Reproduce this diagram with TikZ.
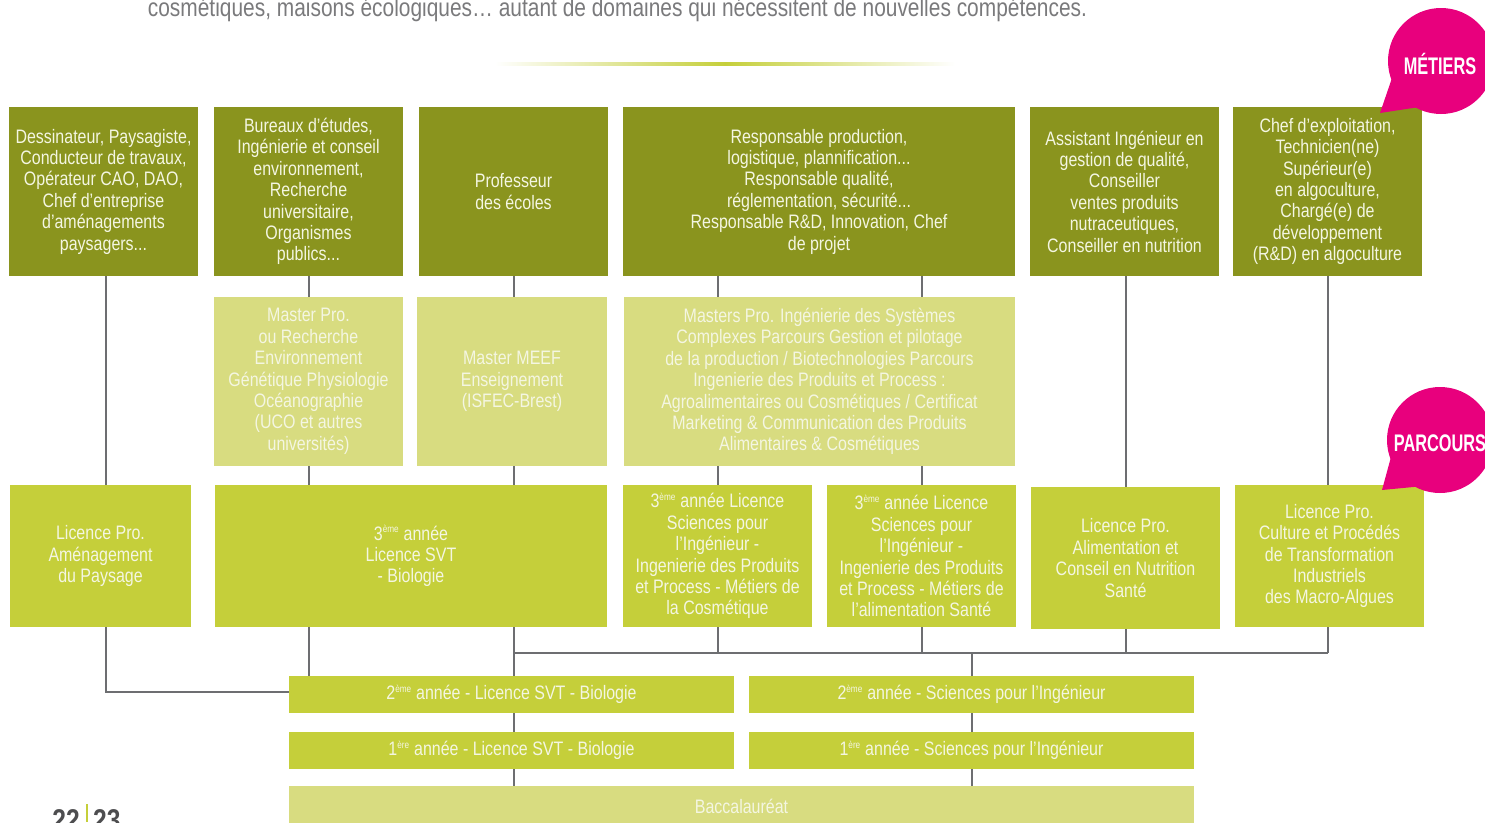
\documentclass[tikz,border=0pt]{standalone}
\usepackage{fontspec}
\setmainfont[FakeStretch=0.82]{Liberation Sans}
\newfontfamily\condfont[FakeStretch=0.68]{Liberation Sans}
\definecolor{olivebox}{HTML}{8A941E}
\definecolor{lightbox}{HTML}{D8DC80}
\definecolor{limebox}{HTML}{C5CF3A}
\definecolor{wirecol}{HTML}{6D6E71}
\definecolor{pinkbub}{HTML}{E8007D}
\definecolor{txtcol}{HTML}{F4F6E2}
\definecolor{headgray}{HTML}{7A7A7C}
\definecolor{pagegray}{HTML}{4D4D4F}
\newcommand\boxfont{\fontsize{19.5}{21.4}\selectfont}
\newcommand\supx[1]{\textsuperscript{\fontsize{10}{10}\selectfont #1}}
\begin{document}
\begin{tikzpicture}[x=1pt,y=-1pt,
  box/.style={inner sep=0pt, outer sep=0pt, align=center, font=\boxfont, text=txtcol},
  met/.style={box, fill=olivebox, minimum height=169pt},
  mas/.style={box, fill=lightbox, minimum height=169pt},
  lic/.style={box, fill=limebox, minimum height=142pt},
  yr/.style={box, fill=limebox, minimum width=445pt, minimum height=37pt},
  wire/.style={draw=wirecol, line width=2.2pt},
  bubtext/.style={inner sep=0pt, text=white, font=\condfont\fontsize{24}{24}\selectfont\bfseries}]
\useasboundingbox (0,0) rectangle (1485,822);
\clip (0,0) rectangle (1485,822);
\fill[white] (0,0) rectangle (1485,822);

% header text
\node[inner sep=0pt, anchor=base, text=headgray, font=\fontsize{25.5}{25.5}\selectfont] (head) at (617.5,16)
  {cosmétiques, maisons écologiques… autant de domaines qui nécessitent de nouvelles compétences.};
\shade[left color=white, right color=white, middle color=limebox] (495,62.5) rectangle (955,65.5);

% guide coordinates
\coordinate (c1) at (106,0);
\coordinate (c2) at (309,0);
\coordinate (c3) at (514,0);
\coordinate (c4) at (718,0);
\coordinate (c5) at (922,0);
\coordinate (c6) at (1126,0);
\coordinate (c7) at (1328,0);
\coordinate (c8) at (972,0);
\coordinate (bus) at (0,653);

% metiers row
\node[met, minimum width=189pt] (b1) at (103.5,191.5) {Dessinateur, Paysagiste,\\Conducteur de travaux,\\Opérateur CAO, DAO,\\Chef d’entreprise\\d’aménagements\\paysagers...};
\node[met, minimum width=189pt] (b2) at (308.5,191.5) {Bureaux d’études,\\Ingénierie et conseil\\environnement,\\Recherche\\universitaire,\\Organismes\\publics...};
\node[met, minimum width=189pt] (b3) at (513.5,191.5) {Professeur\\des écoles};
\node[met, minimum width=392pt] (b4) at (819,191.5) {Responsable production,\\logistique, plannification...\\Responsable qualité,\\réglementation, sécurité...\\Responsable R\&D, Innovation, Chef\\de projet};
\node[met, minimum width=189pt] (b5) at (1124.5,191.5) {Assistant Ingénieur en\\gestion de qualité,\\Conseiller\\ventes produits\\nutraceutiques,\\Conseiller en nutrition};
\node[met, minimum width=189pt] (b6) at (1327.5,191.5) {Chef d’exploitation,\\Technicien(ne)\\Supérieur(e)\\en algoculture,\\Chargé(e) de\\développement\\(R\&D) en algoculture};

% masters row
\node[mas, minimum width=189pt] (m1) at (308.5,381.5) {Master Pro.\\ou Recherche\\Environnement\\Génétique Physiologie\\Océanographie\\(UCO et autres\\universités)};
\node[mas, minimum width=190pt] (m2) at (512,381.5) {Master MEEF\\Enseignement\\(ISFEC-Brest)};
\node[mas, minimum width=391pt] (m3) at (819.5,381.5) {Masters Pro. Ingénierie des Systèmes\\Complexes Parcours Gestion et pilotage\\de la production / Biotechnologies Parcours\\Ingenierie des Produits et Process :\\Agroalimentaires ou Cosmétiques / Certificat\\Marketing \& Communication des Produits\\Alimentaires \& Cosmétiques};

% licence row
\node[lic, minimum width=181pt] (l1) at (100.5,556) {Licence Pro.\\Aménagement\\du Paysage};
\node[lic, minimum width=392pt] (l2) at (411,556) {3\supx{ème} année\\Licence SVT\\- Biologie};
\node[lic, minimum width=189pt] (l3) at (717.5,556) {3\supx{ème} année Licence\\Sciences pour\\l’Ingénieur -\\Ingenierie des Produits\\et Process - Métiers de\\la Cosmétique};
\node[lic, minimum width=189pt] (l4) at (921.5,556) {3\supx{ème} année Licence\\Sciences pour\\l’Ingénieur -\\Ingenierie des Produits\\et Process - Métiers de\\l’alimentation Santé};
\node[lic, minimum width=189pt] (l5) at (1125.5,558) {Licence Pro.\\Alimentation et\\Conseil en Nutrition\\Santé};
\node[lic, minimum width=189pt] (l6) at (1329.5,556) {Licence Pro.\\Culture et Procédés\\de Transformation\\Industriels\\des Macro-Algues};

% year rows
\node[yr] (y2a) at (511.5,694.5) {2\supx{ème} année - Licence SVT - Biologie};
\node[yr] (y2b) at (971.5,694.5) {2\supx{ème} année - Sciences pour l’Ingénieur};
\node[yr] (y1a) at (511.5,750.5) {1\supx{ère} année - Licence SVT - Biologie};
\node[yr] (y1b) at (971.5,750.5) {1\supx{ère} année - Sciences pour l’Ingénieur};
\node[box, fill=lightbox, minimum width=905pt, minimum height=40pt] (bac) at (741.5,806) {Baccalauréat};

% connectors
\draw[wire] (b1.south -| c1) -- (l1.north -| c1);
\draw[wire] (l1.south -| c1) |- ([yshift=2.5pt]y2a.west);
\draw[wire] (b2.south -| c2) -- (m1.north -| c2);
\draw[wire] (m1.south -| c2) -- (l2.north -| c2);
\draw[wire] (l2.south -| c2) -- (y2a.north -| c2);
\draw[wire] (b3.south -| c3) -- (m2.north -| c3);
\draw[wire] (m2.south -| c3) -- (l2.north -| c3);
\draw[wire] (l2.south -| c3) -- (y2a.north -| c3);
\draw[wire] (y2a.south -| c3) -- (y1a.north -| c3);
\draw[wire] (y1a.south -| c3) -- (bac.north -| c3);
\draw[wire] (b4.south -| c4) -- (m3.north -| c4);
\draw[wire] (b4.south -| c5) -- (m3.north -| c5);
\draw[wire] (m3.south -| c4) -- (l3.north -| c4);
\draw[wire] (m3.south -| c5) -- (l4.north -| c5);
\draw[wire] (b5.south -| c6) -- (l5.north -| c6);
\draw[wire] (b6.south -| c7) -- (l6.north -| c7);
\draw[wire] (l3.south -| c4) -- (bus -| c4);
\draw[wire] (l4.south -| c5) -- (bus -| c5);
\draw[wire] (l5.south -| c6) -- (bus -| c6);
\draw[wire] (l6.south -| c7) -- (bus -| c7);
\draw[wire] (bus -| c3) -- (bus -| c7);
\draw[wire] (bus -| c8) -- (y2b.north -| c8);
\draw[wire] (y2b.south -| c8) -- (y1b.north -| c8);
\draw[wire] (y1b.south -| c8) -- (bac.north -| c8);

% bubbles
\fill[pinkbub] (1441,61) circle (53);
\fill[pinkbub] (1392,78) -- (1380,113) -- (1426,106) -- cycle;
\node[bubtext] (metiers) at (1440,64) {MÉTIERS};
\fill[pinkbub] (1440,440) circle (53);
\fill[pinkbub] (1391,457) -- (1382,490) -- (1424,486) -- cycle;
\node[bubtext] (parcours) at (1440,443) {PARCOURS};

% page numbers
\node[inner sep=0pt, anchor=base east, text=pagegray, font=\fontsize{30}{30}\selectfont\bfseries] (p22) at (80,830) {22};
\node[inner sep=0pt, anchor=base west, text=pagegray, font=\fontsize{30}{30}\selectfont\bfseries] (p23) at (93,830) {23};
\fill[limebox] (85.5,804) rectangle (88,822);
\end{tikzpicture}
\end{document}
